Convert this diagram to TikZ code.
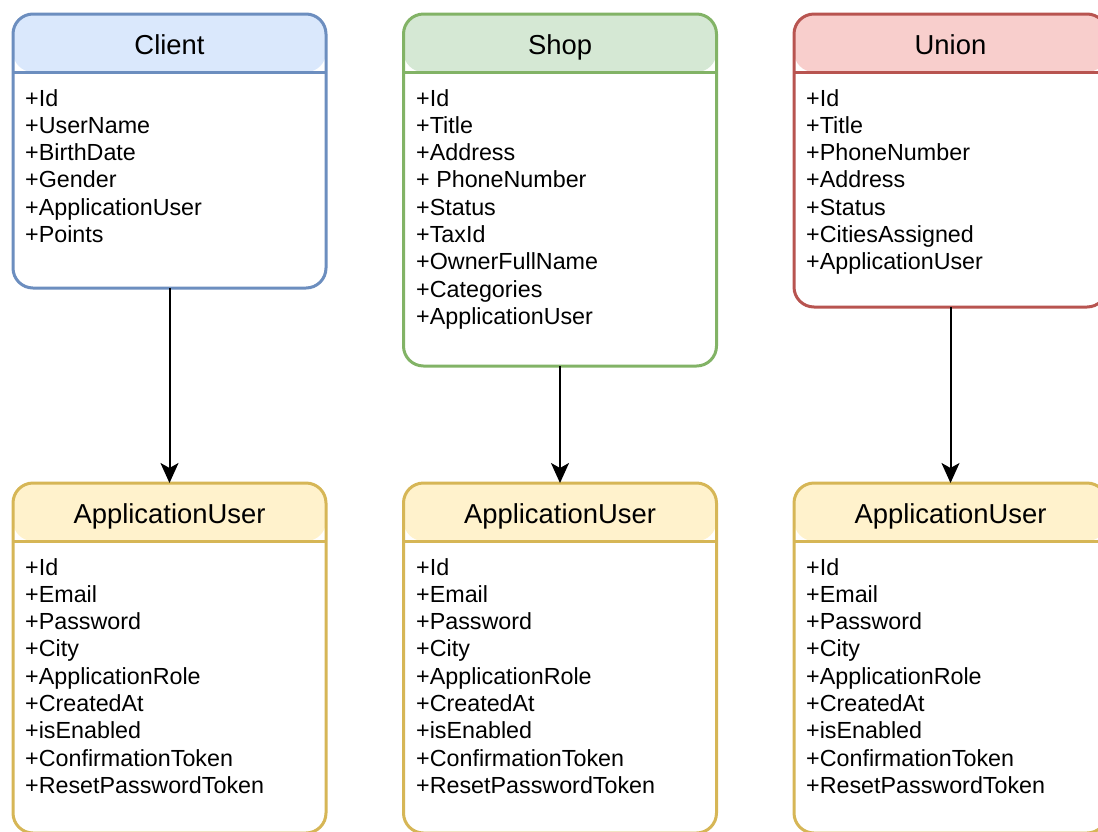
\documentclass[tikz,border=0pt]{standalone}
\usepackage{fontspec}
\setmainfont{Liberation Sans}
\usetikzlibrary{arrows.meta}

\definecolor{blueFill}{HTML}{DAE8FC}\definecolor{blueLine}{HTML}{6C8EBF}
\definecolor{greenFill}{HTML}{D5E8D4}\definecolor{greenLine}{HTML}{82B366}
\definecolor{redFill}{HTML}{F8CECC}\definecolor{redLine}{HTML}{B85450}
\definecolor{yellowFill}{HTML}{FFF2CC}\definecolor{yellowLine}{HTML}{D6B656}

\tikzset{
  classbox/.style n args={3}{
    rectangle, rounded corners=20pt, draw=#2, line width=3pt, fill=white,
    minimum width=313pt, minimum height=#3pt, inner sep=0pt, outer sep=0pt,
    anchor=north,
    path picture={
      \fill[#1] (path picture bounding box.north west) rectangle
        ([yshift=-58pt]path picture bounding box.north east);
      \draw[#2, line width=3pt] ([yshift=-58pt]path picture bounding box.north west) --
        ([yshift=-58pt]path picture bounding box.north east);
    }
  },
  title/.style={anchor=base, inner sep=0pt, font=\fontsize{27.4}{32}\selectfont},
  item/.style={anchor=base west, inner sep=0pt, font=\fontsize{23.3}{27.3}\selectfont},
  link/.style={draw=black, line width=2pt, -{Stealth[length=20pt, width=18pt, inset=5pt]}}
}

\begin{document}
\begin{tikzpicture}[x=1pt, y=-1pt]
  \useasboundingbox (0,0) rectangle (1098,831);
  \begin{scope}
  \clip (0,0) rectangle (1098,831);

  % entity boxes
  \node[classbox={blueFill}{blueLine}{274}]   (client) at (169.5,14) {};
  \node[classbox={greenFill}{greenLine}{352}] (shop)   at (560,14) {};
  \node[classbox={redFill}{redLine}{293}]     (union)  at (950.5,14) {};
  \node[classbox={yellowFill}{yellowLine}{350}] (userA) at (169.5,483) {};
  \node[classbox={yellowFill}{yellowLine}{350}] (userB) at (560,483) {};
  \node[classbox={yellowFill}{yellowLine}{350}] (userC) at (950.5,483) {};

  % titles
  \node[title] (clientT) at (169.5,54) {Client};
  \node[title] (shopT)   at (560,54) {Shop};
  \node[title] (unionT)  at (950.5,54) {Union};
  \node[title] (userAT)  at (169.5,523) {ApplicationUser};
  \node[title] (userBT)  at (560,523) {ApplicationUser};
  \node[title] (userCT)  at (950.5,523) {ApplicationUser};

  % attributes
  \foreach \t [count=\i] in {+Id,+UserName,+BirthDate,+Gender,+ApplicationUser,+Points}
    \node[item] (client-\i) at (25,{106+(\i-1)*27.3}) {\t};
  \foreach \t [count=\i] in {+Id,+Title,+Address,+ PhoneNumber,+Status,+TaxId,+OwnerFullName,+Categories,+ApplicationUser}
    \node[item] (shop-\i) at (416,{106+(\i-1)*27.3}) {\t};
  \foreach \t [count=\i] in {+Id,+Title,+PhoneNumber,+Address,+Status,+CitiesAssigned,+ApplicationUser}
    \node[item] (union-\i) at (806,{106+(\i-1)*27.3}) {\t};
  \foreach \b/\x in {userA/25,userB/416,userC/806}
    \foreach \t [count=\i] in {+Id,+Email,+Password,+City,+ApplicationRole,+CreatedAt,+isEnabled,+ConfirmationToken,+ResetPasswordToken}
      \node[item] (\b-\i) at (\x,{575+(\i-1)*27.3}) {\t};

  % associations
  \draw[link] (client.south) -- (userA.north);
  \draw[link] (shop.south) -- (userB.north);
  \draw[link] (union.south) -- (userC.north);
  \end{scope}
\end{tikzpicture}
\end{document}
